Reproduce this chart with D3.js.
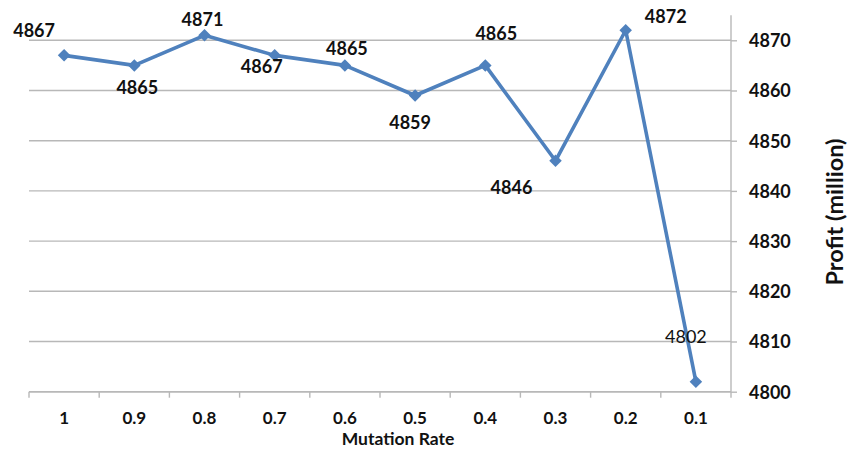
<!DOCTYPE html>
<html>
<head>
<meta charset="utf-8">
<script src="https://cdn.jsdelivr.net/npm/d3@7"></script>
<style>
  html, body { margin: 0; padding: 0; background: #fff; }
  svg text { font-family: Lato, "Open Sans", sans-serif; fill: #111; }
</style>
</head>
<body>
<svg id="chart" width="859" height="452"></svg>
<script>
// Mutation rate categories and profit per run (million)
const mutationRates = ["1", "0.9", "0.8", "0.7", "0.6", "0.5", "0.4", "0.3", "0.2", "0.1"];
const profits = [4867, 4865, 4871, 4867, 4865, 4859, 4865, 4846, 4872, 4802];
const yTicks = [4800, 4810, 4820, 4830, 4840, 4850, 4860, 4870];

// Where each value label sits relative to its marker (dx, dy of baseline centre)
const labelOffsets = [
  [-30, -18], [3, 29], [-2, -9], [-13, 18], [2, -10],
  [-5, 33], [11, -25], [-44, 33], [40, -7], [-10, -39]
];

const svg = d3.select("#chart");
const plot = { left: 29, right: 731, top: 15.2, bottom: 391.7 };
const fontSize = 18;

const x = d3.scaleBand().domain(mutationRates).range([plot.left, plot.right]).padding(0);
const y = d3.scaleLinear().domain([4800, 4875]).range([plot.bottom, plot.top]);
const cx = d => x(d) + x.bandwidth() / 2;

const gridColor = "#b8b8b8";

// Horizontal gridlines
svg.append("g")
  .selectAll("line")
  .data(yTicks)
  .join("line")
  .attr("x1", plot.left).attr("x2", plot.right)
  .attr("y1", d => y(d)).attr("y2", d => y(d))
  .attr("stroke", gridColor).attr("stroke-width", 1.4);

// Right value axis
const yAxis = d3.axisRight(y).tickValues(yTicks).tickSize(6).tickPadding(12).tickFormat(d3.format("d"));
const gy = svg.append("g").attr("transform", `translate(${plot.right},0)`).call(yAxis);
gy.select(".domain").attr("stroke", gridColor).attr("stroke-width", 1.4).attr("d", `M0,${plot.top}V${plot.bottom}`);
gy.selectAll(".tick line").attr("stroke", gridColor).attr("stroke-width", 1.4);
gy.selectAll(".tick text")
  .attr("font-family", "Lato").attr("font-size", fontSize).attr("font-weight", "bold")
  .attr("fill", "#111").attr("dy", "0.36em");

// Bottom category axis with ticks at band boundaries
const gx = svg.append("g").attr("transform", `translate(0,${plot.bottom})`);
gx.append("line").attr("x1", plot.left).attr("x2", plot.right)
  .attr("stroke", gridColor).attr("stroke-width", 1.4);
const bounds = mutationRates.map(d => x(d)).concat([plot.right]);
gx.selectAll("line.tk").data(bounds).join("line").attr("class", "tk")
  .attr("x1", d => d).attr("x2", d => d).attr("y1", 0).attr("y2", 6)
  .attr("stroke", gridColor).attr("stroke-width", 1.4);
gx.selectAll("text").data(mutationRates).join("text")
  .attr("x", d => cx(d)).attr("y", 32.3)
  .attr("text-anchor", "middle")
  .attr("font-size", 17).attr("font-weight", "bold")
  .text(d => d);

// Axis titles
svg.append("text")
  .attr("x", 398).attr("y", 445)
  .attr("text-anchor", "middle").attr("font-size", 17.5).attr("font-weight", "bold")
  .text("Mutation Rate");
svg.append("text")
  .attr("transform", "translate(843,212) rotate(-90)")
  .attr("text-anchor", "middle").attr("font-size", 23.5).attr("font-weight", "bold")
  .text("Profit (million)");

// Profit line
const lineColor = "#4f81bd";
const line = d3.line().x((d, i) => cx(mutationRates[i])).y(d => y(d));
svg.append("path")
  .datum(profits)
  .attr("d", line)
  .attr("fill", "none").attr("stroke", lineColor).attr("stroke-width", 3.6)
  .attr("stroke-linejoin", "round");

// Diamond markers
svg.append("g")
  .selectAll("path")
  .data(profits)
  .join("path")
  .attr("d", d3.symbol().type(d3.symbolDiamond2).size(100))
  .attr("transform", (d, i) => `translate(${cx(mutationRates[i])},${y(d)})`)
  .attr("fill", lineColor);

// Value labels
svg.append("g")
  .selectAll("text")
  .data(profits)
  .join("text")
  .attr("x", (d, i) => cx(mutationRates[i]) + labelOffsets[i][0])
  .attr("y", (d, i) => y(d) + labelOffsets[i][1])
  .attr("text-anchor", "middle")
  .attr("font-size", fontSize)
  .attr("font-weight", (d, i) => i === profits.length - 1 ? "normal" : "bold")
  .text(d => d);
</script>
</body>
</html>
